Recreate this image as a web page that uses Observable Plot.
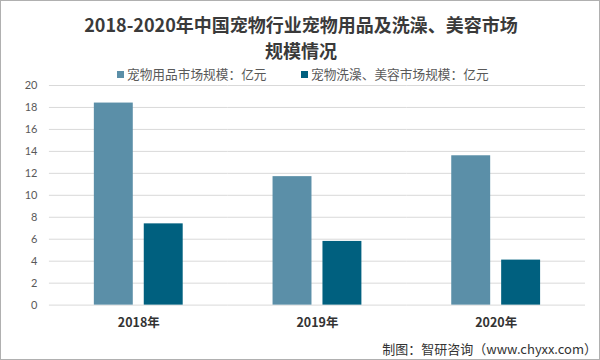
<!DOCTYPE html>
<html>
<head>
<meta charset="utf-8">
<script src="https://cdn.jsdelivr.net/npm/d3@7"></script>
<script src="https://cdn.jsdelivr.net/npm/@observablehq/plot@0.6"></script>
<style>
  html, body { margin: 0; padding: 0; background: #fff; }
  #frame { position: relative; width: 600px; height: 360px; box-sizing: border-box; border: 1px solid #b0b0b0; overflow: hidden; font-family: "Noto Sans CJK SC", sans-serif; }
  #title { position: absolute; left: 0; width: 600px; top: 10px; text-align: center; font-size: 18px; font-weight: 700; line-height: 26px; color: #3a3a3a; }
  #legend { position: absolute; top: 63px; left: 0; width: 600px; height: 18px; font-size: 12.7px; color: #595959; }
  .li { position: absolute; top: 0; white-space: nowrap; }
  .sw { display: inline-block; width: 7px; height: 7px; margin-right: 3px; vertical-align: 1px; }
  #chart { position: absolute; left: -1px; top: 77px; }
  #caption { position: absolute; right: 2px; top: 338px; font-size: 13px; color: #333; white-space: nowrap; }
</style>
</head>
<body>
<div id="frame">
  <div id="title">2018-2020年中国宠物行业宠物用品及洗澡、美容市场<br>规模情况</div>
  <div id="legend"></div>
  <div id="chart"></div>
  <div id="caption">制图：智研咨询（www.chyxx.com）</div>
</div>
<script>
const years = ["2018年", "2019年", "2020年"];
const seriesNames = ["宠物用品市场规模：亿元", "宠物洗澡、美容市场规模：亿元"];
const supplies = [18.4, 11.7, 13.6];
const grooming = [7.4, 5.8, 4.1];
const colors = ["#5b8fa8", "#00607f"];
const yTicks = [0, 2, 4, 6, 8, 10, 12, 14, 16, 18, 20];

const data = [];
years.forEach((y, i) => {
  data.push({year: y, series: seriesNames[0], value: supplies[i]});
  data.push({year: y, series: seriesNames[1], value: grooming[i]});
});

// legend
const legend = document.getElementById("legend");
const lefts = [116, 300];
seriesNames.forEach((s, i) => {
  const d = document.createElement("div");
  d.className = "li";
  d.style.left = lefts[i] + "px";
  d.innerHTML = `<span class="sw" style="background:${colors[i]}"></span>${s}`;
  legend.appendChild(d);
});

const chart = Plot.plot({
  width: 600,
  height: 262,
  marginLeft: 48,
  marginRight: 13,
  marginTop: 7,
  marginBottom: 35,
  style: {fontFamily: "Lato, 'Noto Sans CJK SC', sans-serif", background: "transparent"},
  fx: {domain: years, padding: 0, label: null},
  x: {domain: seriesNames, paddingInner: 0.2157, paddingOuter: 0.873, axis: null},
  y: {domain: [0, 20], label: null},
  color: {domain: seriesNames, range: colors},
  marks: [
    Plot.gridY(yTicks, {stroke: "#d9d9d9", strokeOpacity: 1}),
    Plot.axisY({ticks: yTicks, tickSize: 0, tickPadding: 12, fontSize: 11, fill: "#595959", label: null}),
    Plot.barY(data, {fx: "year", x: "series", y: "value", fill: "series"}),
    Plot.axisFx({anchor: "bottom", tickSize: 0, tickPadding: 13, fontSize: 12.5, fontWeight: 700, fill: "#333", label: null, fontFamily: "'Noto Sans CJK SC', sans-serif"})
  ]
});
document.getElementById("chart").appendChild(chart);
</script>
</body>
</html>
